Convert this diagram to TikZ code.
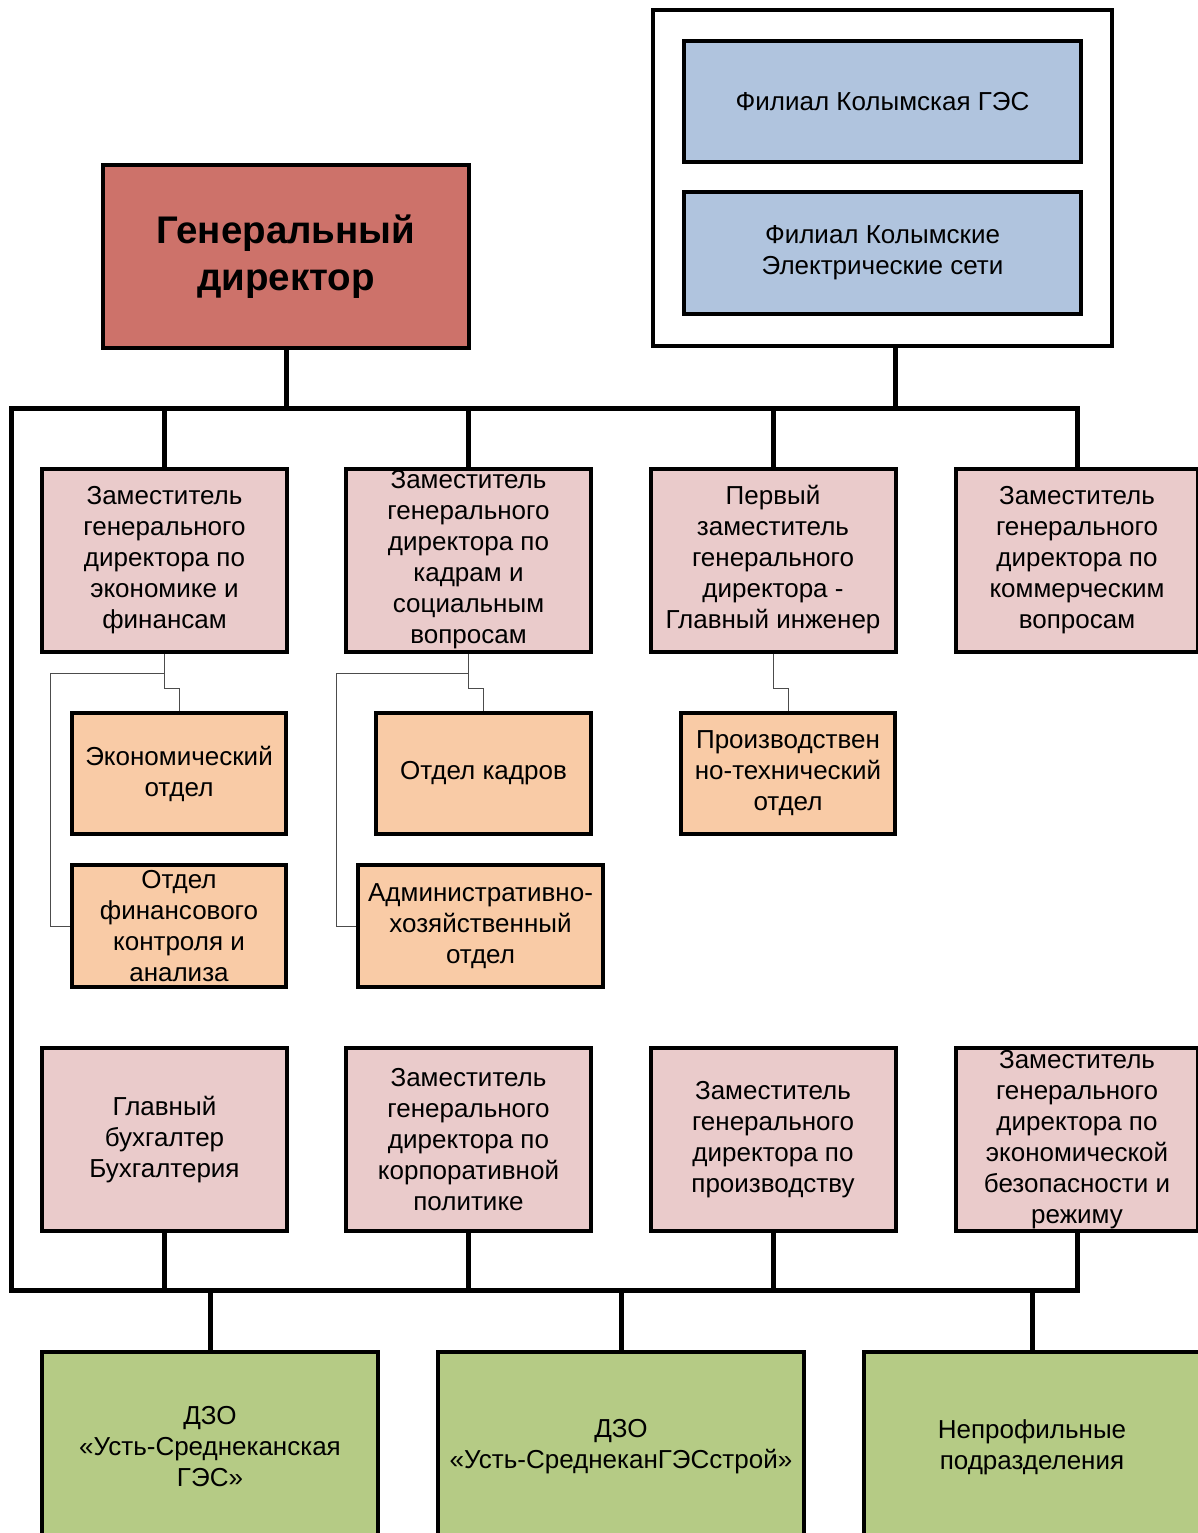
\documentclass[tikz,border=0pt]{standalone}
\usepackage{fontspec}
\setmainfont{Liberation Sans}
\usetikzlibrary{positioning}
\definecolor{zampink}{HTML}{EACBCB}
\definecolor{otdorange}{HTML}{F9CBA6}
\definecolor{filblue}{HTML}{B0C4DE}
\definecolor{dzogreen}{HTML}{B5CB85}
\definecolor{chiefred}{HTML}{CD726A}

\tikzset{
  box/.style={draw, line width=4pt, rectangle, align=center, inner sep=0pt,
    font=\fontsize{26}{31}\selectfont},
  zambox/.style={box, fill=zampink, minimum width=245, minimum height=183},
  otdbox/.style={box, fill=otdorange, minimum width=214, minimum height=121},
  filbox/.style={box, fill=filblue, minimum width=397, minimum height=121},
  dzobox/.style={box, fill=dzogreen, minimum height=190},
  chief/.style={box, fill=chiefred, minimum width=366, minimum height=183,
    font=\fontsize{38.5}{47}\selectfont\bfseries},
  frame/.style={box, fill=white, minimum width=459, minimum height=336},
  bus/.style={line width=5pt, line cap=rect},
  sub/.style={line width=1pt, black!70}
}

\begin{document}
\begin{tikzpicture}[x=1pt,y=-1pt]
\useasboundingbox (0,0) rectangle (1198,1533);

% top level
\node[chief] (gendir) at (286,256.5) {Генеральный\\директор};
\node[frame] (filialy) at (882.5,178) {};
\node[filbox] (kges) at (882.5,101.5) {Филиал Колымская ГЭС};
\node[filbox] (kes) at (882.5,253) {Филиал Колымские\\Электрические сети};

% deputies, upper row
\node[zambox] (zam1) at (164.5,560) {Заместитель\\генерального\\директора по\\экономике и\\финансам};
\node[zambox] (zam2) at (468.5,560) {Заместитель\\генерального\\директора по\\кадрам и\\социальным\\вопросам};
\node[zambox] (zam3) at (773,560) {Первый\\заместитель\\генерального\\директора -\\Главный инженер};
\node[zambox, minimum width=242] (zam4) at (1077,560) {Заместитель\\генерального\\директора по\\коммерческим\\вопросам};

% departments
\node[otdbox] (ekon) at (179,773.5) {Экономический\\отдел};
\node[otdbox, minimum height=122] (finkontr) at (179,926) {Отдел\\финансового\\контроля и\\анализа};
\node[otdbox, minimum width=215] (kadry) at (483.5,773.5) {Отдел кадров};
\node[otdbox, minimum width=245, minimum height=122] (aho) at (480.5,926) {Административно-\\хозяйственный\\отдел};
\node[otdbox] (pto) at (788,773.5) {Производствен\\но-технический\\отдел};

% deputies, lower row
\node[zambox] (buh) at (164.5,1139.5) {Главный\\бухгалтер\\Бухгалтерия};
\node[zambox] (zamkorp) at (468.5,1139.5) {Заместитель\\генерального\\директора по\\корпоративной\\политике};
\node[zambox] (zamproizv) at (773,1139.5) {Заместитель\\генерального\\директора по\\производству};
\node[zambox, minimum width=242] (zambez) at (1077,1139.5) {Заместитель\\генерального\\директора по\\экономической\\безопасности и\\режиму};

% subsidiaries
\node[dzobox, minimum width=336] (dzo1) at (210,1447) {ДЗО\\«Усть-Среднеканская\\ГЭС»};
\node[dzobox, minimum width=366] (dzo2) at (621,1447) {ДЗО\\«Усть-СреднеканГЭСстрой»};
\node[dzobox, minimum width=336] (neprof) at (1032,1447) {Непрофильные\\подразделения};

% buses
\coordinate (busTL) at (11,408);
\coordinate (busBL) at (11,1290);
\draw[bus] (zam4.north) |- (busTL) -- (busBL) -| (zambez.south);
\draw[bus] (gendir.south) -- (gendir.south |- busTL);
\draw[bus] ([xshift=12.5pt]filialy.south) -- ([xshift=12.5pt]filialy.south |- busTL);
\draw[bus] (zam1.north) -- (zam1.north |- busTL);
\draw[bus] (zam2.north) -- (zam2.north |- busTL);
\draw[bus] (zam3.north) -- (zam3.north |- busTL);
\draw[bus] (buh.south) -- (buh.south |- busBL);
\draw[bus] (zamkorp.south) -- (zamkorp.south |- busBL);
\draw[bus] (zamproizv.south) -- (zamproizv.south |- busBL);
\draw[bus] (dzo1.north) -- (dzo1.north |- busBL);
\draw[bus] (dzo2.north) -- (dzo2.north |- busBL);
\draw[bus] (neprof.north) -- (neprof.north |- busBL);

% thin links to departments
\draw[sub] (zam1.south) -- ++(0,35) -| (ekon.north);
\draw[sub] (zam1.south) ++(0,20) -- ++(-114.5,0) |- (finkontr.west);
\draw[sub] (zam2.south) -- ++(0,35) -| (kadry.north);
\draw[sub] (zam2.south) ++(0,20) -- ++(-132.5,0) |- (aho.west);
\draw[sub] (zam3.south) -- ++(0,35) -| (pto.north);
\end{tikzpicture}
\end{document}
